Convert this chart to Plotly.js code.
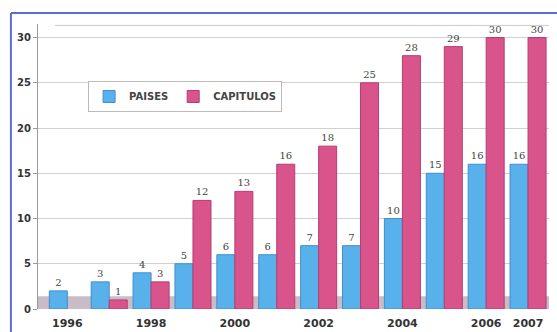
<!DOCTYPE html>
<html>
<head>
<meta charset="utf-8">
<script src="https://cdn.plot.ly/plotly-3.0.1.min.js"></script>
<style>html,body{margin:0;padding:0;background:#fff;}#chart{width:557px;height:332px;}</style>
</head>
<body>
<div id="chart"></div>
<script>
const years = [1996, 1997, 1998, 1999, 2000, 2001, 2002, 2003, 2004, 2005, 2006, 2007];
const paises = [2, 3, 4, 5, 6, 6, 7, 7, 10, 15, 16, 16];
const capitulos = [null, 1, 3, 12, 13, 16, 18, 25, 28, 29, 30, 30];
const tickYears = [1996, 1998, 2000, 2002, 2004, 2006, 2007];
const tickLabels = ['1996', '1998', '2000', '2002', '2004', '2006', '2007'];

const labelFont = {family: 'DejaVu Serif', size: 10, color: '#444'};

const traces = [
  {
    type: 'bar', name: 'PAISES', x: years, y: paises,
    marker: {color: '#58b1ea', line: {color: '#3f8fd0', width: 1}},
    text: paises.map(String), textposition: 'outside', cliponaxis: false,
    textfont: labelFont
  },
  {
    type: 'bar', name: 'CAPITULOS', x: years, y: capitulos,
    marker: {color: '#d9548b', line: {color: '#b83c70', width: 1}},
    text: capitulos.map(v => v == null ? '' : String(v)), textposition: 'outside', cliponaxis: false,
    textfont: labelFont
  }
];

const layout = {
  width: 557, height: 332,
  margin: {l: 38, r: 8, t: 24, b: 23},
  paper_bgcolor: '#ffffff', plot_bgcolor: '#ffffff',
  barmode: 'group', bargap: 0.14, bargroupgap: 0,
  showlegend: true,
  legend: {
    orientation: 'h', x: 0.098, y: 0.80, xanchor: 'left', yanchor: 'top',
    bordercolor: '#bbbbbb', borderwidth: 1, bgcolor: '#ffffff',
    font: {family: 'DejaVu Sans', size: 10, color: '#444', weight: 'bold'},
    itemwidth: 30, tracegroupgap: 0
  },
  xaxis: {
    range: [1995.3, 2007.5], tickmode: 'array', tickvals: tickYears, ticktext: tickLabels,
    showgrid: false, zeroline: false, showline: false, ticks: '', ticklabelstandoff: 6,
    tickfont: {family: 'DejaVu Sans', size: 11, color: '#333', weight: 'bold'}
  },
  yaxis: {
    range: [0, 31.5], tickvals: [0, 5, 10, 15, 20, 25, 30],
    showgrid: true, gridcolor: '#d0d0d0', gridwidth: 1, zeroline: false,
    showline: true, linecolor: '#999', linewidth: 1, ticks: 'outside', ticklen: 4, tickcolor: '#999',
    tickfont: {family: 'DejaVu Sans', size: 10, color: '#333', weight: 'bold'}
  },
  shapes: [
    {type: 'rect', layer: 'below', xref: 'paper', yref: 'y', x0: 0, x1: 1, y0: 0, y1: 1.4,
     fillcolor: '#c9bcc6', line: {width: 0}},
    {type: 'line', xref: 'paper', yref: 'paper', x0: -0.053, x1: 1.02, y0: 1.039, y1: 1.039,
     line: {color: '#5b6cd3', width: 2}},
    {type: 'line', xref: 'paper', yref: 'paper', x0: -0.053, x1: -0.053, y0: -0.1, y1: 1.039,
     line: {color: '#5b6cd3', width: 2}},
    {type: 'line', layer: 'below', xref: 'paper', yref: 'paper', x0: 0.033, x1: 1, y0: 0.995, y1: 0.995,
     line: {color: '#cccccc', width: 1}}
  ]
};

Plotly.newPlot('chart', traces, layout, {displayModeBar: false, staticPlot: true});
</script>
</body>
</html>
